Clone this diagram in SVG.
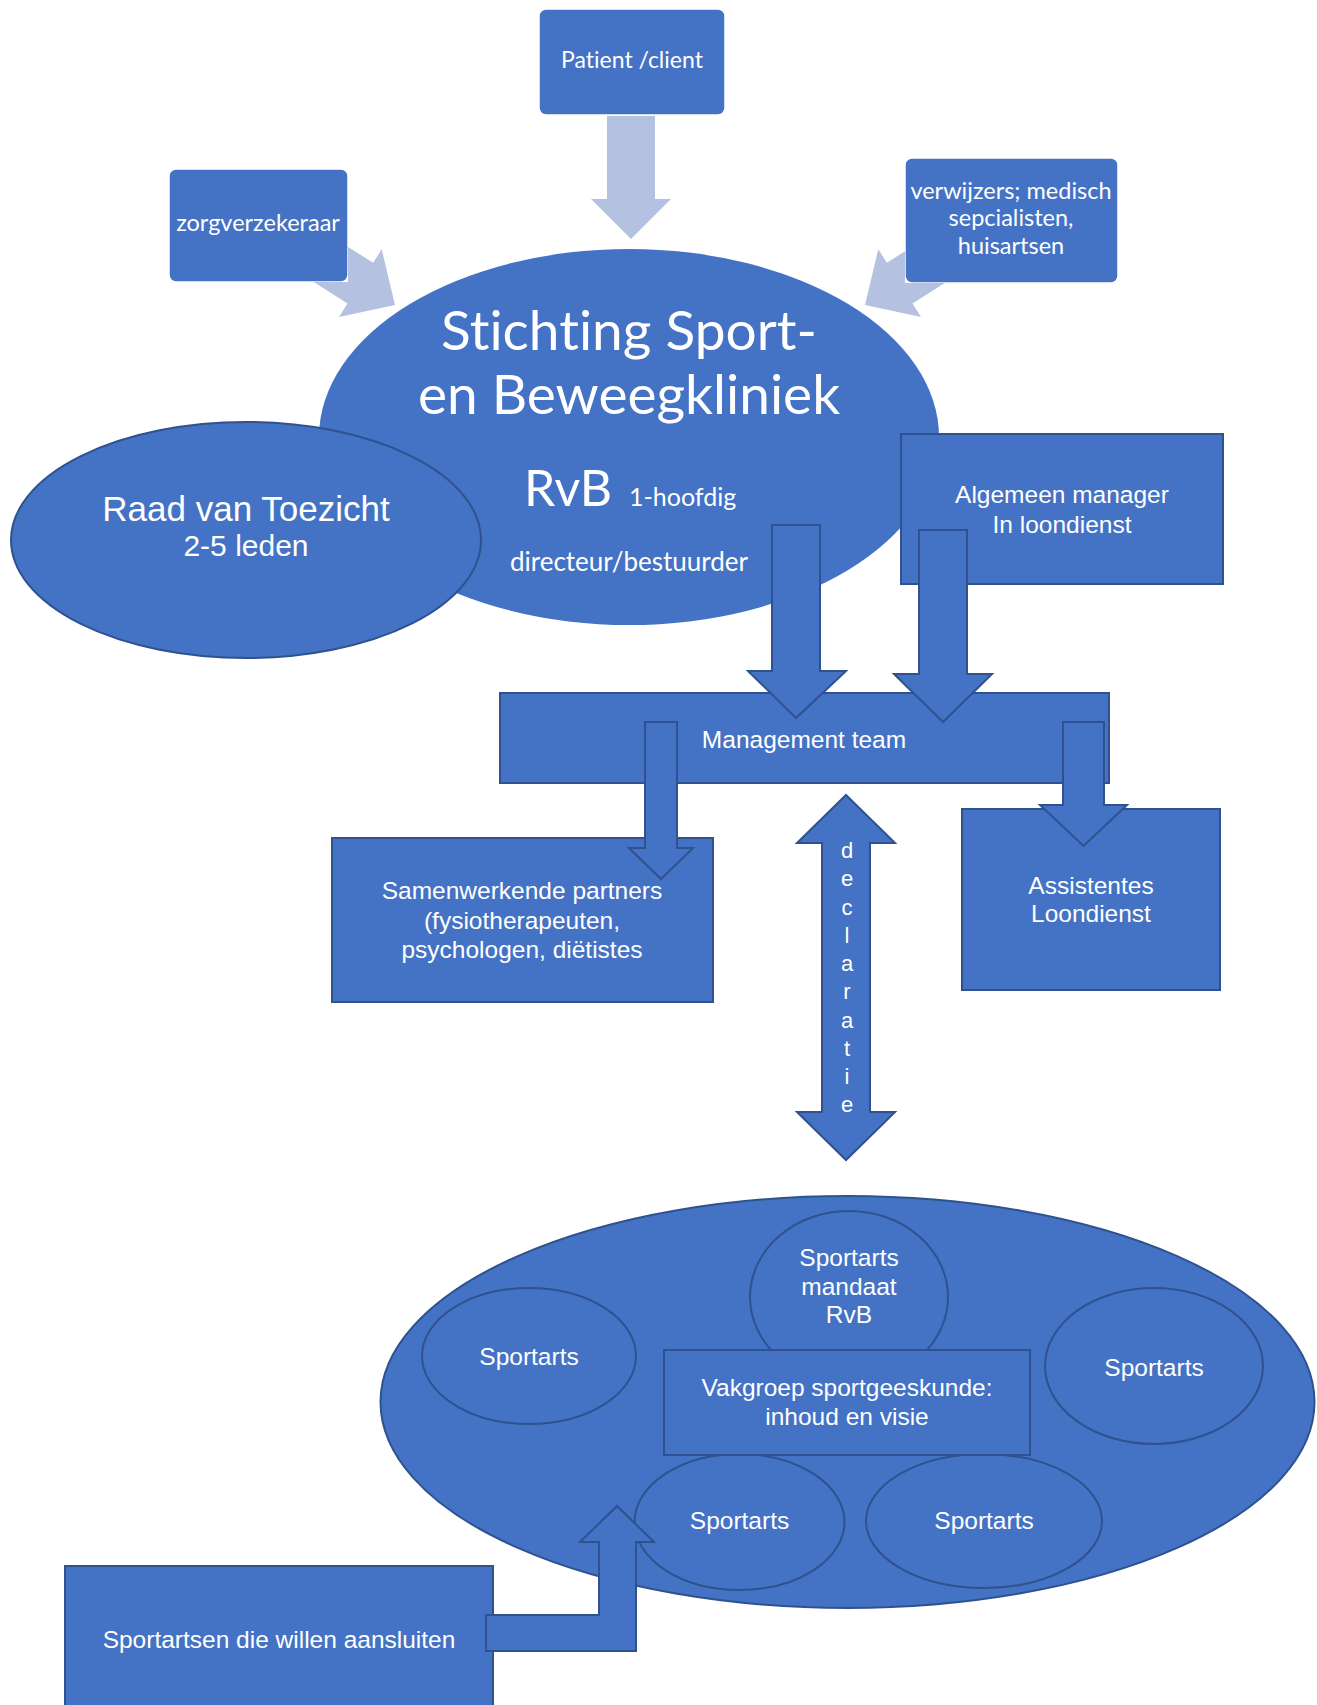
<svg xmlns="http://www.w3.org/2000/svg" width="1317" height="1705" viewBox="0 0 1317 1705">
<style>
.n{fill:#4472C4;stroke:#2F528F;stroke-width:2}
.w{fill:#4472C4;stroke:#ffffff;stroke-width:1.5}
.p{fill:#4472C4;stroke:none}
.la{fill:#B4C1E1;stroke:none}
.da{fill:#4472C4;stroke:#2F528F;stroke-width:2;stroke-linejoin:miter}
.t{font-family:"Liberation Sans",Arial,sans-serif;fill:#ffffff;font-size:24.5px;text-anchor:middle}
.c{font-family:Lato,"Open Sans",sans-serif;fill:#ffffff;text-anchor:middle;font-variant-ligatures:none}
</style>
<rect width="1317" height="1705" fill="#ffffff"/>
<g id="stichting">
<ellipse cx="629" cy="437" rx="310" ry="188" class="p"/>
<text class="c" x="629" y="350" font-size="55">Stichting Sport-</text>
<text class="c" x="629" y="414" font-size="55">en Beweegkliniek</text>
<text class="c" x="524" y="506" font-size="50" style="text-anchor:start">RvB</text>
<text class="c" x="629" y="506" font-size="25" style="text-anchor:start">1-hoofdig</text>
<text class="c" x="629" y="571" font-size="26">directeur/bestuurder</text>
</g>
<g id="patient">
<rect x="539" y="9" width="186" height="106" rx="7" class="w"/>
<text class="c" x="632" y="68" font-size="23">Patient /client</text>
</g>
<g id="zorgverzekeraar">
<rect x="169" y="169" width="179" height="113" rx="7" class="w"/>
<text class="c" x="258" y="231" font-size="23.5">zorgverzekeraar</text>
</g>
<g id="verwijzers">
<rect x="905" y="158" width="213" height="125" rx="7" class="w"/>
<text class="c" x="1011" y="199" font-size="23.5">verwijzers; medisch</text>
<text class="c" x="1011" y="226" font-size="23.5">sepcialisten,</text>
<text class="c" x="1011" y="254" font-size="23.5">huisartsen</text>
</g>
<g id="raad">
<ellipse cx="246" cy="540" rx="235" ry="118" class="n"/>
<text class="t" x="246" y="521" style="font-size:35px">Raad van Toezicht</text>
<text class="t" x="246" y="556" style="font-size:30px">2-5 leden</text>
</g>
<g id="algemeen">
<rect x="901" y="434" width="322" height="150" class="n"/>
<text class="t" x="1062" y="503">Algemeen manager</text>
<text class="t" x="1062" y="533">In loondienst</text>
</g>
<g id="management">
<rect x="500" y="693" width="609" height="90" class="n"/>
<text class="t" x="804" y="748">Management team</text>
</g>
<g id="samenwerkende">
<rect x="332" y="838" width="381" height="164" class="n"/>
<text class="t" x="522" y="899">Samenwerkende partners</text>
<text class="t" x="522" y="929">(fysiotherapeuten,</text>
<text class="t" x="522" y="958">psychologen, diëtistes</text>
</g>
<g id="assistentes">
<rect x="962" y="809" width="258" height="181" class="n"/>
<text class="t" x="1091" y="894">Assistentes</text>
<text class="t" x="1091" y="922">Loondienst</text>
</g>
<g id="vakgroep-cluster">
<ellipse cx="847.5" cy="1402" rx="467" ry="206" class="n"/>
</g>
<g id="sportarts-mandaat">
<ellipse cx="849" cy="1297" rx="99" ry="86" class="n"/>
<text class="t" x="849" y="1266">Sportarts</text>
<text class="t" x="849" y="1295">mandaat</text>
<text class="t" x="849" y="1323">RvB</text>
</g>
<g id="sportarts-links">
<ellipse cx="529" cy="1356" rx="107" ry="68" class="n"/>
<text class="t" x="529" y="1365">Sportarts</text>
</g>
<g id="sportarts-rechts">
<ellipse cx="1154" cy="1366" rx="109" ry="78" class="n"/>
<text class="t" x="1154" y="1376">Sportarts</text>
</g>
<g id="sportarts-onder-links">
<ellipse cx="739.5" cy="1522" rx="105" ry="68" class="n"/>
<text class="t" x="739.5" y="1529">Sportarts</text>
</g>
<g id="sportarts-onder-rechts">
<ellipse cx="984" cy="1521" rx="118" ry="67" class="n"/>
<text class="t" x="984" y="1529">Sportarts</text>
</g>
<g id="vakgroep">
<rect x="664" y="1350" width="366" height="105" class="n"/>
<text class="t" x="847" y="1396">Vakgroep sportgeeskunde:</text>
<text class="t" x="847" y="1425">inhoud en visie</text>
</g>
<g id="aansluiten">
<rect x="65" y="1566" width="428" height="150" class="n"/>
<text class="t" x="279" y="1648">Sportartsen die willen aansluiten</text>
</g>
<g id="connectors">
<polygon class="la" points="607,116 655,116 655,199 671,199 631,239 591,199 607,199"/>
<polygon class="la" points="395,305 381.7,249.3 373.2,262.8 348,246.9 348,282 313.7,282 347.5,303.4 339,316.9"/>
<polygon class="la" points="865,305 878.3,249.3 886.8,262.8 905,251.3 905,283 944.7,283 912.5,303.4 921,316.9"/>
<polygon class="da" points="772,525 820,525 820,671 846,671 796,718 748,671 772,671"/>
<polygon class="da" points="919,530 967,530 967,674 992,674 943,722 894,674 919,674"/>
<polygon class="da" points="645,722 677,722 677,848 693,848 661,879 629,848 645,848"/>
<polygon class="da" points="1063,722 1104,722 1104,805 1127,805 1083.5,846 1040,805 1063,805"/>
<polygon class="da" points="846,795 895,843 870,843 870,1112 895,1112 846,1160 797,1112 822,1112 822,843 797,843"/>
<text class="t" style="font-size:22px">
<tspan x="847" y="858">d</tspan><tspan x="847" y="886">e</tspan><tspan x="847" y="915">c</tspan><tspan x="847" y="943">l</tspan><tspan x="847" y="971">a</tspan><tspan x="847" y="999">r</tspan><tspan x="847" y="1028">a</tspan><tspan x="847" y="1056">t</tspan><tspan x="847" y="1084">i</tspan><tspan x="847" y="1112">e</tspan>
</text>
<polygon class="da" points="486,1615 599,1615 599,1542 580,1542 617,1506 654,1542 636,1542 636,1651 486,1651"/>
</g>
</svg>
